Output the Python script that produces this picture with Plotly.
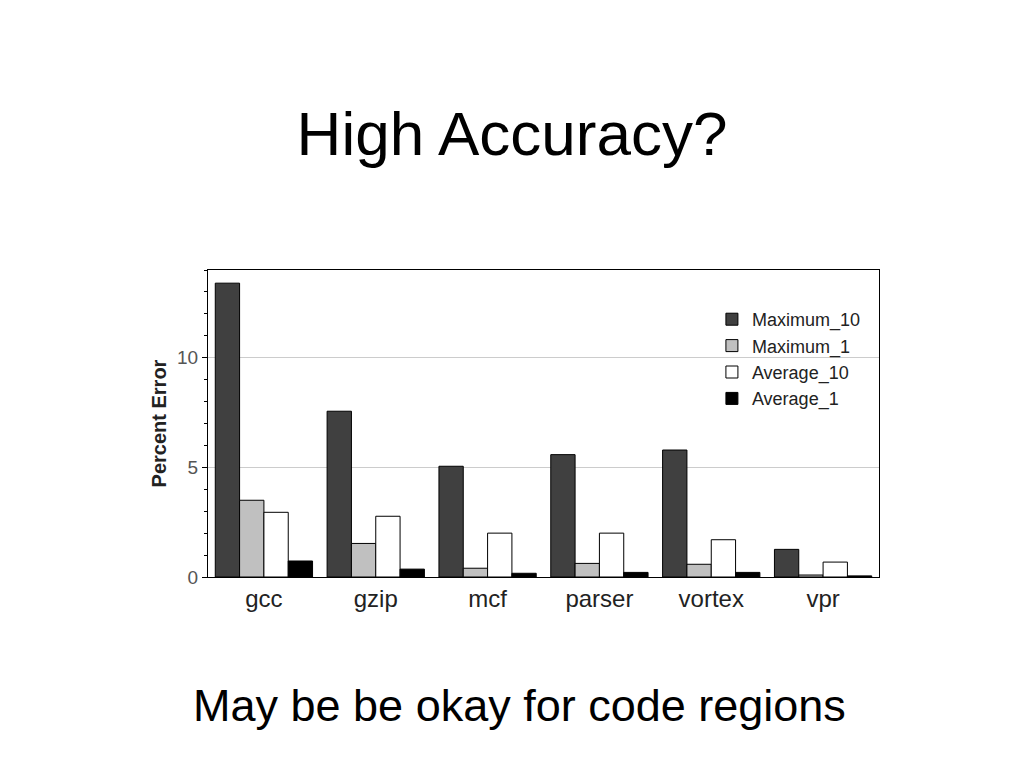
import plotly.graph_objects as go

categories = ["gcc", "gzip", "mcf", "parser", "vortex", "vpr"]
maximum_10 = [13.4, 7.56, 5.05, 5.58, 5.79, 1.26]
maximum_1 = [3.5, 1.53, 0.4, 0.62, 0.58, 0.09]
average_10 = [2.95, 2.77, 2.0, 2.0, 1.7, 0.68]
average_1 = [0.73, 0.36, 0.17, 0.21, 0.21, 0.05]

series = [
    ("Maximum_10", maximum_10, "#404040"),
    ("Maximum_1", maximum_1, "#c0c0c0"),
    ("Average_10", average_10, "#ffffff"),
    ("Average_1", average_1, "#000000"),
]

FONT = "Liberation Sans, Arial, sans-serif"

fig = go.Figure()
for name, vals, color in series:
    fig.add_trace(go.Bar(
        x=categories, y=vals, name=name,
        marker=dict(color=color, line=dict(color="black", width=1)),
    ))

fig.update_layout(
    width=1024, height=768,
    paper_bgcolor="white", plot_bgcolor="white",
    margin=dict(l=200, r=153, t=262, b=199),
    barmode="group", bargap=0.13, bargroupgap=0,
    font=dict(family=FONT, color="#222222"),
    title=dict(text="High Accuracy?", x=504 / 1024, xanchor="center",
               y=1 - 125 / 768, yanchor="middle",
               font=dict(size=62, color="black", family=FONT)),
    legend=dict(x=0.751, y=0.899, xanchor="left", yanchor="top",
                bgcolor="rgba(0,0,0,0)", font=dict(size=18, color="#222222"),
                tracegroupgap=0, traceorder="normal"),
    annotations=[dict(text="May be be okay for code regions", xref="paper", yref="paper",
                      x=0.4635, y=(569 - 697) / 307, xanchor="center", yanchor="middle",
                      showarrow=False,
                      font=dict(size=45, color="black", family=FONT))],
)

fig.update_xaxes(
    showline=True, linecolor="black", linewidth=1, mirror=True,
    ticks="", tickfont=dict(size=24, color="#222222"),
)
fig.update_yaxes(
    range=[0, 14], tickvals=[0, 5, 10],
    showline=True, linecolor="black", linewidth=1, mirror=True,
    ticks="outside", ticklen=5, tickcolor="black",
    minor=dict(dtick=1, ticks="outside", ticklen=3, tickcolor="black", showgrid=False),
    showgrid=True, gridcolor="#cccccc", gridwidth=1,
    zeroline=False,
    tickfont=dict(size=19, color="#555555"),
    title=dict(text="<b>Percent Error</b>", font=dict(size=20, color="#222222"), standoff=5),
)

fig.write_html("out.html")
